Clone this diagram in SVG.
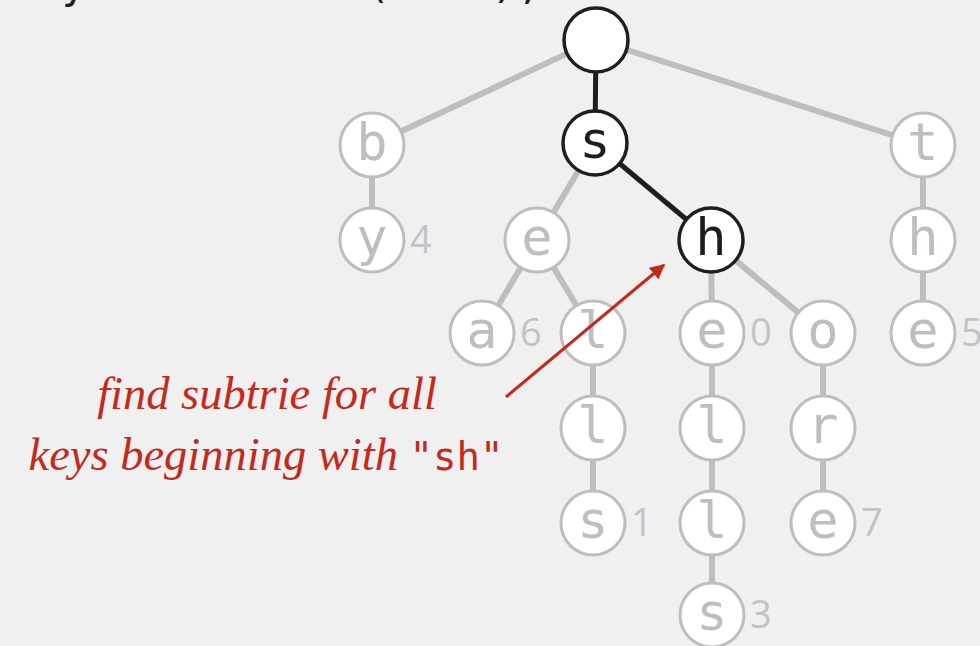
<svg xmlns="http://www.w3.org/2000/svg" width="980" height="646" viewBox="0 0 980 646">
<defs>
<style>
.g line{stroke:#BDBEC1;stroke-width:6}
.k line{stroke:#1E1E1E;stroke-width:5}
.n circle{fill:#FFFFFF;stroke:#BDBEC1;stroke-width:3}
.n text{fill:#BDBEC1;font-family:"DejaVu Sans Mono",monospace;font-size:52px;text-anchor:middle}
.b circle{stroke:#1E1E1E;stroke-width:3.5}
.b text{fill:#1E1E1E}
.n text.v{fill:#C2C3C6;font-family:"Open Sans","Noto Sans",sans-serif;font-size:38px;font-weight:400;text-anchor:start}
.r{fill:#C42A1C;font-family:"Liberation Serif",serif;font-style:italic;font-size:46.5px}
</style>
<marker id="ah" viewBox="0 0 10 10" refX="9" refY="5" markerWidth="5" markerHeight="5" orient="auto" markerUnits="strokeWidth">
<path d="M0,0 L10,5 L0,10 z" fill="#C42A1C"/>
</marker>
</defs>
<rect width="980" height="646" fill="#F0F0F0"/>
<text x="11" y="-2" fill="#1E1E1E" font-family="DejaVu Sans Mono,monospace" font-size="42">keysWithPrefix("sh");</text>
<g id="connectors">
<g class="g">
<line x1="596" y1="40" x2="372" y2="145"/>
<line x1="596" y1="40" x2="923" y2="145"/>
<line x1="372" y1="145" x2="372" y2="240"/>
<line x1="595" y1="143" x2="537" y2="240"/>
<line x1="537" y1="240" x2="482" y2="333"/>
<line x1="537" y1="240" x2="593" y2="333"/>
<line x1="593" y1="333" x2="593" y2="428"/>
<line x1="593" y1="428" x2="593" y2="523"/>
<line x1="711" y1="240" x2="712" y2="333"/>
<line x1="711" y1="240" x2="823" y2="333"/>
<line x1="712" y1="333" x2="712" y2="428"/>
<line x1="712" y1="428" x2="712" y2="523"/>
<line x1="712" y1="523" x2="712" y2="615"/>
<line x1="823" y1="333" x2="823" y2="428"/>
<line x1="823" y1="428" x2="823" y2="523"/>
<line x1="923" y1="145" x2="923" y2="240"/>
<line x1="923" y1="240" x2="923" y2="333"/>
</g>
<g class="k">
<line x1="596" y1="40" x2="595" y2="143"/>
<line x1="595" y1="143" x2="711" y2="240"/>
</g>
</g>
<g id="root" class="n b"><circle cx="596" cy="40" r="32"/></g>
<g id="n-s" class="n b"><circle cx="595" cy="143" r="32"/><text x="595" y="158">s</text></g>
<g id="n-sh" class="n b"><circle cx="711" cy="240" r="32"/><text x="711" y="255">h</text></g>
<g id="n-b" class="n"><circle cx="372" cy="145" r="32"/><text x="372" y="160">b</text></g>
<g id="n-by" class="n"><circle cx="372" cy="240" r="32"/><text x="372" y="255">y</text><text class="v" x="410" y="253">4</text></g>
<g id="n-se" class="n"><circle cx="537" cy="240" r="32"/><text x="537" y="255">e</text></g>
<g id="n-sea" class="n"><circle cx="482" cy="333" r="32"/><text x="482" y="348">a</text><text class="v" x="520" y="346">6</text></g>
<g id="n-sel" class="n"><circle cx="593" cy="333" r="32"/><text x="593" y="348">l</text></g>
<g id="n-sell" class="n"><circle cx="593" cy="428" r="32"/><text x="593" y="443">l</text></g>
<g id="n-sells" class="n"><circle cx="593" cy="523" r="32"/><text x="593" y="538">s</text><text class="v" x="631" y="536">1</text></g>
<g id="n-she" class="n"><circle cx="712" cy="333" r="32"/><text x="712" y="348">e</text><text class="v" x="750" y="346">0</text></g>
<g id="n-shel" class="n"><circle cx="712" cy="428" r="32"/><text x="712" y="443">l</text></g>
<g id="n-shell" class="n"><circle cx="712" cy="523" r="32"/><text x="712" y="538">l</text></g>
<g id="n-shells" class="n"><circle cx="712" cy="615" r="32"/><text x="712" y="630">s</text><text class="v" x="750" y="628">3</text></g>
<g id="n-sho" class="n"><circle cx="823" cy="333" r="32"/><text x="823" y="348">o</text></g>
<g id="n-shor" class="n"><circle cx="823" cy="428" r="32"/><text x="823" y="443">r</text></g>
<g id="n-shore" class="n"><circle cx="823" cy="523" r="32"/><text x="823" y="538">e</text><text class="v" x="861" y="536">7</text></g>
<g id="n-t" class="n"><circle cx="923" cy="145" r="32"/><text x="923" y="160">t</text></g>
<g id="n-th" class="n"><circle cx="923" cy="240" r="32"/><text x="923" y="255">h</text></g>
<g id="n-the" class="n"><circle cx="923" cy="333" r="32"/><text x="923" y="348">e</text><text class="v" x="961" y="346">5</text></g>
<g id="annotation">
<line x1="506" y1="397" x2="664" y2="265" stroke="#C42A1C" stroke-width="3" marker-end="url(#ah)"/>
<text class="r" x="267" y="409" text-anchor="middle">find subtrie for all</text>
<text class="r" x="266" y="470" text-anchor="middle">keys beginning with <tspan font-family="DejaVu Sans Mono,monospace" font-style="normal" font-size="39">"sh"</tspan></text>
</g>
</svg>
